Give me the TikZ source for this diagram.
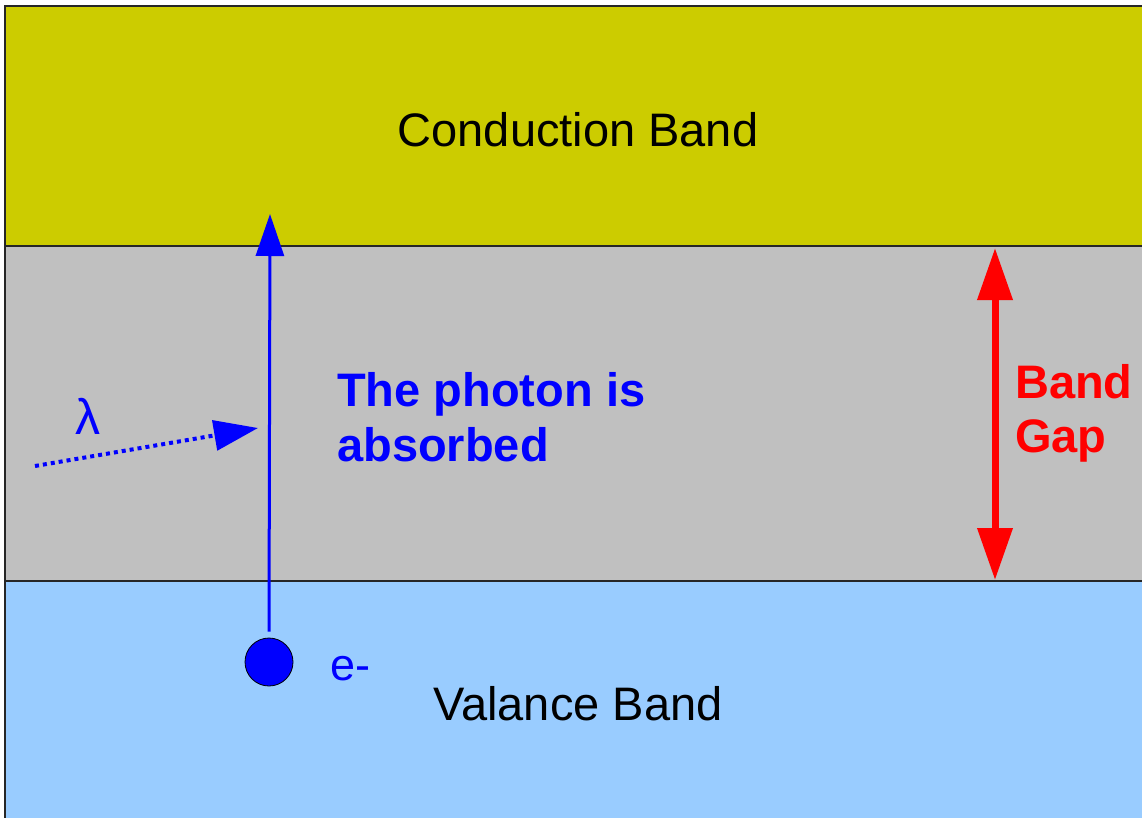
\documentclass[tikz,border=0pt]{standalone}
\usepackage{fontspec}
\setmainfont{Liberation Sans}
\usetikzlibrary{arrows.meta}
\definecolor{condcol}{RGB}{204,204,0}
\definecolor{gapcol}{RGB}{192,192,192}
\definecolor{valcol}{RGB}{153,204,255}
\definecolor{myblue}{RGB}{0,0,255}
\definecolor{myred}{RGB}{255,0,0}
\tikzset{
  band/.style={draw=black!85, line width=1.2pt},
  bandtext/.style={font=\fontsize{47}{55}\selectfont, text=black, inner sep=0pt},
  bluetext/.style={font=\fontsize{47}{55}\selectfont\bfseries, text=myblue, inner sep=0pt, align=left},
  redtext/.style={font=\fontsize{47}{54}\selectfont\bfseries, text=myred, inner sep=0pt, align=left},
  jump/.style={draw=myblue, line width=3pt, -{Triangle[length=42pt,width=28pt]}},
  photon/.style={draw=myblue, line width=4pt, dash pattern=on 4pt off 4pt, -{Triangle[length=44pt,width=30pt]}},
  gaparrow/.style={draw=myred, line width=7pt, {Triangle[length=52pt,width=34pt]}-{Triangle[length=52pt,width=34pt]}},
}
\begin{document}
\begin{tikzpicture}[x=1pt,y=-1pt]
\useasboundingbox (0,0) rectangle (1142,817);
\clip (0,0) rectangle (1142,817);
\fill[white] (0,0) rectangle (1142,817);
% bands
\path[band, fill=condcol] (5,6) rectangle (1160,246);
\path[band, fill=gapcol] (5,246) rectangle (1160,581);
\path[band, fill=valcol] (5,581) rectangle (1160,840);
% texts
\node[bandtext, anchor=base] (cb) at (578,146) {Conduction Band};
\node[bandtext, anchor=base] (vb) at (578,720) {Valance Band};
\node[bluetext, anchor=base west] (abs) at (337,461) {The photon is\\absorbed};
\node[redtext, anchor=base west] (bg) at (1015,452) {Band\\Gap};
\node[font=\fontsize{50}{55}\selectfont, text=myblue, inner sep=0pt, anchor=base] (lam) at (88,434) {λ};
\node[font=\fontsize{45}{55}\selectfont, text=myblue, inner sep=0pt, anchor=base west] (em) at (330,680) {e-};
% electron
\node[circle, draw=black, fill=myblue, line width=0.8pt, minimum size=48pt, inner sep=0pt] (e) at (269,662) {};
% connectors
\coordinate (jtop) at (270,214);
\draw[jump] ([yshift=6pt]e.north) -- (jtop);
\coordinate (ps) at (35,466);
\coordinate (pe) at (258,428);
\draw[photon] (ps) -- (pe);
\coordinate (gt) at (995,248);
\coordinate (gb) at (995,580);
\draw[gaparrow] (gb) -- (gt);
\end{tikzpicture}
\end{document}
